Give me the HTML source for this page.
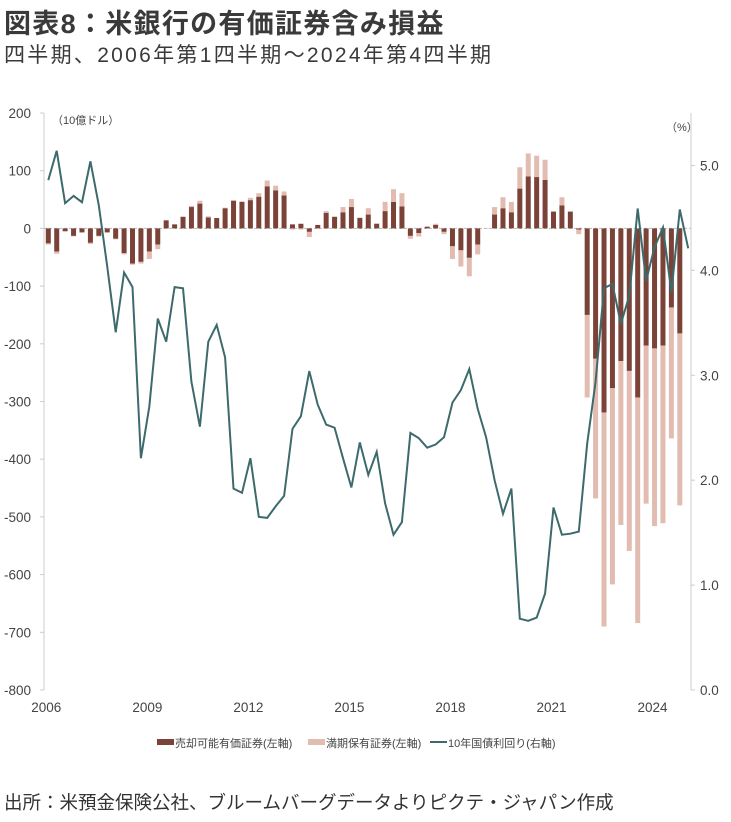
<!DOCTYPE html>
<html><head><meta charset="utf-8">
<style>
body{margin:0;background:#fff;width:731px;height:822px;overflow:hidden;font-family:"Liberation Sans","Noto Sans CJK JP",sans-serif;color:#333}
#title{position:absolute;left:4px;top:2px;font-size:27px;font-weight:bold;color:#3a3a3a;letter-spacing:1.3px;white-space:nowrap}
#subtitle{position:absolute;left:4px;top:39px;font-size:21px;color:#3a3a3a;letter-spacing:2.3px;white-space:nowrap}
#source{position:absolute;left:4px;top:789px;font-size:18.5px;color:#333;white-space:nowrap}
svg{position:absolute;left:0;top:0}
svg text{font-family:"Liberation Sans","Noto Sans CJK JP",sans-serif;fill:#444}
</style></head><body>
<div id="title">図表8：米銀行の有価証券含み損益</div>
<div id="subtitle">四半期、2006年第1四半期～2024年第4四半期</div>
<svg id="chart" width="731" height="822"></svg>
<div id="source">出所：米預金保険公社、ブルームバーグデータよりピクテ・ジャパン作成</div>
<script>
const afs=[-26,-40,-5,-13,-7,-25,-13,-7,-18,-43,-61,-58,-40,-28,14,7,20,37,43,19,18,35,48,46,49,55,73,66,57,7,8,-6,6,27,20,28,37,18,24,8,30,46,38,-13,-8,3,6,-6,-31,-38,-51,-28,0,24,35,28,69,90,89,84,29,40,29,-2,-150,-226,-319,-277,-230,-247,-293,-203,-208,-203,-137,-182];
const htm=[-2,-4,0,-1,0,-2,-1,0,-1,-2,-2,-3,-13,-8,0,0,1,2,5,2,0,1,1,1,4,6,10,8,7,-2,-2,-9,0,3,1,9,14,1,11,1,16,22,23,-5,-6,0,2,-4,-22,-28,-32,-17,-1,13,19,18,37,40,37,35,1,14,1,-8,-143,-242,-371,-340,-284,-312,-391,-274,-308,-308,-227,-298];
const yields=[4.86,5.14,4.64,4.71,4.65,5.04,4.62,4.04,3.41,3.98,3.84,2.21,2.70,3.54,3.32,3.84,3.83,2.94,2.51,3.32,3.48,3.17,1.92,1.88,2.21,1.65,1.64,1.75,1.85,2.49,2.61,3.04,2.72,2.53,2.50,2.21,1.93,2.36,2.05,2.27,1.78,1.48,1.60,2.45,2.40,2.31,2.34,2.41,2.74,2.86,3.06,2.68,2.41,2.00,1.68,1.92,0.68,0.66,0.69,0.92,1.74,1.48,1.49,1.51,2.35,2.94,3.83,3.87,3.49,3.76,4.59,3.90,4.22,4.41,3.79,4.58,4.21];
const leftTicks=[200,100,0,-100,-200,-300,-400,-500,-600,-700,-800];
const rightTicks=["0.0","1.0","2.0","3.0","4.0","5.0"];
const yearLabels=["2006","2009","2012","2015","2018","2021","2024"];

const NS="http://www.w3.org/2000/svg";
const svg=document.getElementById('chart');
const top0=113,bot=690;
function yL(v){return top0+(200-v)*(bot-top0)/1000;}
function yR(v){return bot-v*(bot-top0)/5.5;}
function xQ(i){return 48.3+i*8.42;}
function mk(tag,attrs,parent){const e=document.createElementNS(NS,tag);for(const k in attrs)e.setAttribute(k,attrs[k]);(parent||svg).appendChild(e);return e;}

const axL=mk('line',{x1:44,y1:top0,x2:44,y2:bot,stroke:'#ccc','stroke-width':1});


const axR=mk('line',{x1:691,y1:top0,x2:691,y2:bot,stroke:'#ccc','stroke-width':1});


leftTicks.forEach(v=>{
  const y=yL(v);
  mk('line',{x1:40,y1:y,x2:44,y2:y,stroke:'#ccc'});
  const t=mk('text',{x:31,y:y+5,'text-anchor':'end','font-size':13.5});
  t.textContent=v;
  
  
});
rightTicks.forEach(s=>{
  const y=yR(parseFloat(s));
  mk('line',{x1:691,y1:y,x2:695,y2:y,stroke:'#ccc'});
  const t=mk('text',{x:700,y:y+5,'font-size':13.5});
  t.textContent=s;
  
  
});
yearLabels.forEach((s,k)=>{
  const t=mk('text',{x:xQ(k*12)-2,y:712,'text-anchor':'middle','font-size':13.5});
  t.textContent=s;
  
  
});
const u1=mk('text',{x:52,y:124,'font-size':11});u1.textContent='（10億ドル）';


const u2=mk('text',{x:666,y:131,'font-size':11});u2.textContent='（%）';



const z=mk('line',{x1:44,y1:yL(0),x2:691,y2:yL(0),stroke:'#bbb','stroke-dasharray':'3,2','stroke-width':1});



const bw=5;
afs.forEach((a,i)=>{
  const h=htm[i];const x=xQ(i)-bw/2;
  let pos=0,neg=0;
  [[a,'#7b4238','afs-bar'],[h,'#e2bcb0','htm-bar']].forEach(([v,c,n])=>{
    let y0,y1;
    if(v>=0){y0=pos;y1=pos+v;pos=y1;}else{y0=neg;y1=neg+v;neg=y1;}
    const ya=yL(Math.max(y0,y1)),yb=yL(Math.min(y0,y1));
    const r=mk('rect',{x:x,y:ya,width:bw,height:Math.max(0,yb-ya),fill:c});
    
    
  });
});

const pts=yields.map((v,i)=>xQ(i).toFixed(1)+','+yR(v).toFixed(1)).join(' ');
const pl=mk('polyline',{points:pts,fill:'none',stroke:'#3d6a6c','stroke-width':2,'stroke-linejoin':'miter'});



const lg=mk('g',{});


const items=[['rect','#7b4238','売却可能有価証券(左軸)',157],['rect','#e2bcb0','満期保有証券(左軸)',308],['line','#3d6a6c','10年国債利回り(右軸)',430]];
items.forEach(([k,c,s,x])=>{
  if(k==='rect')mk('rect',{x:x,y:739,width:17,height:6,fill:c},lg);
  else mk('line',{x1:x,y1:742,x2:x+17,y2:742,stroke:c,'stroke-width':2},lg);
  const t=mk('text',{x:x+18,y:747,'font-size':11},lg);t.textContent=s;
  
  
});
</script>
</body></html>
